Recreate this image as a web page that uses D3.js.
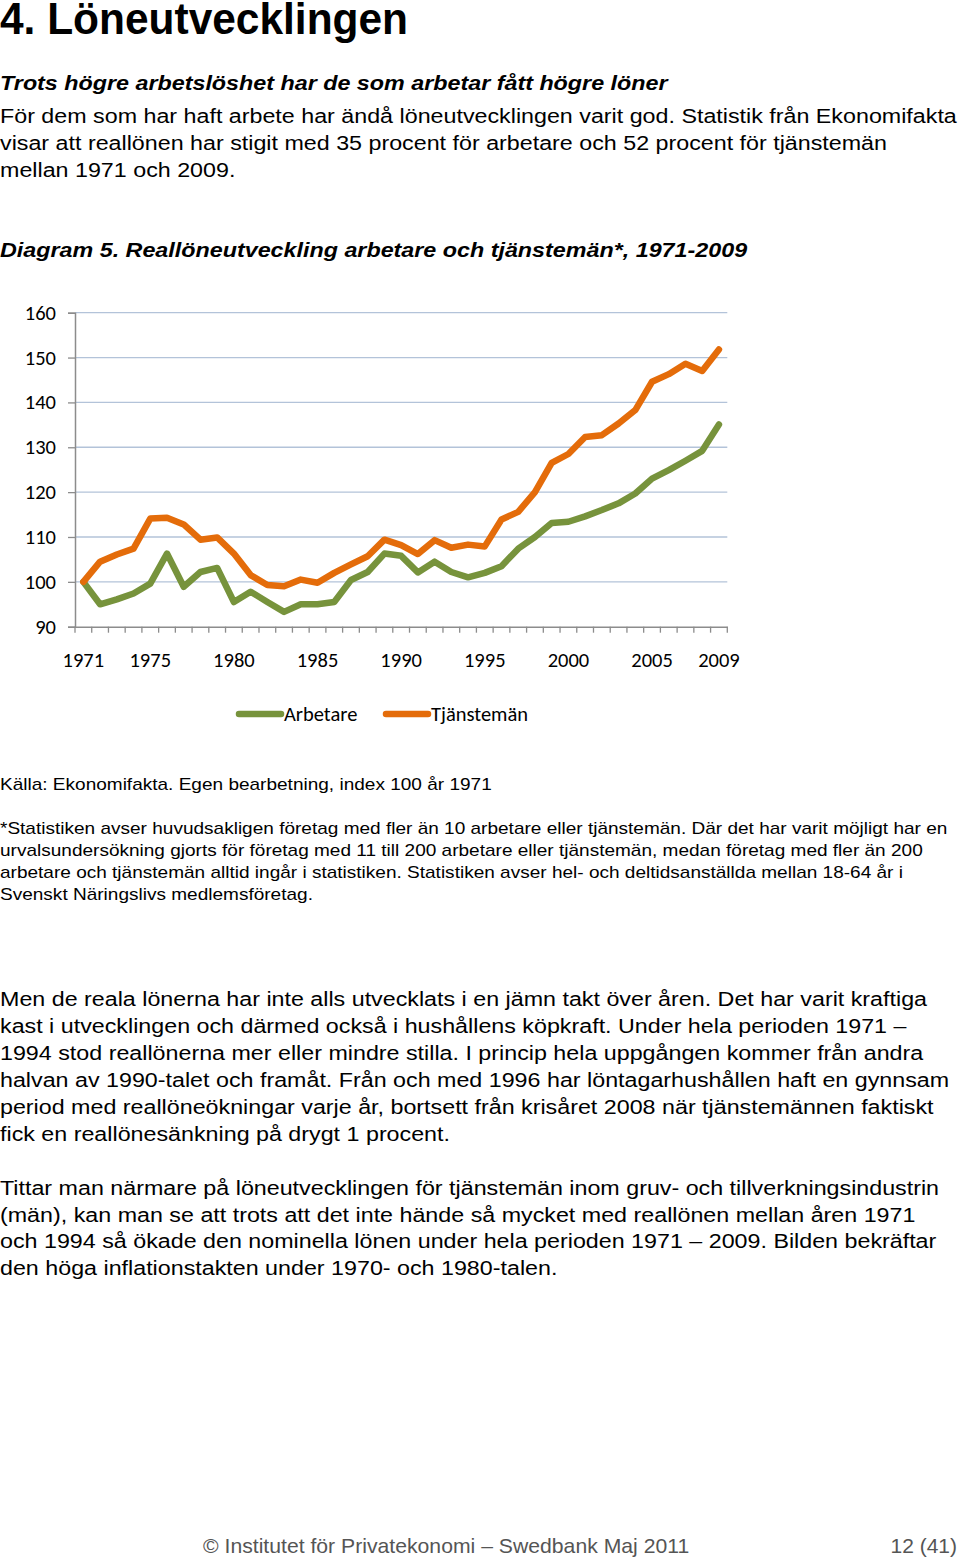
<!DOCTYPE html>
<html><head><meta charset="utf-8">
<script src="https://cdn.jsdelivr.net/npm/d3@7"></script>
<style>
body{margin:0;background:#fff;}
svg{display:block;}
</style></head>
<body>
<svg id="c" width="960" height="1558"></svg>
<script>
const years = d3.range(1971, 2010);
const tickYears = [1971, 1975, 1980, 1985, 1990, 1995, 2000, 2005, 2009];
const yTicks = [90, 100, 110, 120, 130, 140, 150, 160];
const arbetare = [100, 95.0, 96.1, 97.4, 99.6, 106.3, 98.9, 102.2, 103.1, 95.5,
  97.8, 95.5, 93.3, 95.0, 95.0, 95.5, 100.4, 102.2, 106.3, 105.8,
  102.1, 104.5, 102.2, 101.0, 102.0, 103.5, 107.4, 110.0, 113.1, 113.4,
  114.6, 116.0, 117.5, 119.7, 123.0, 124.9, 127.0, 129.2, 135.1];
const tjanstemen = [100, 104.5, 106.1, 107.4, 114.1, 114.3, 112.8, 109.4, 109.9, 106.3,
  101.5, 99.3, 99.0, 100.5, 99.8, 102.0, 103.9, 105.7, 109.4, 108.2,
  106.2, 109.3, 107.6, 108.3, 107.9, 113.9, 115.6, 120.0, 126.5, 128.5,
  132.3, 132.7, 135.3, 138.3, 144.6, 146.3, 148.6, 147.0, 151.8];
const seriesNames = ["Arbetare", "Tjänstemän"];
const colors = ["#77933C", "#E46C0A"];

const svg = d3.select("#c");
const body = "'Liberation Sans', Arial, sans-serif";
const chartFont = "Carlito, Lato, 'Open Sans', sans-serif";
const chartSize = 20.5;

function para(lines, y0, lh, size, opts = {}) {
  const sx = opts.sx || 1;
  lines.forEach((t, i) => {
    svg.append("text")
      .attr("transform", `translate(${opts.x || 0},${y0 + i * lh}) scale(${sx},1)`)
      .attr("font-family", body).attr("font-size", size)
      .attr("font-weight", opts.bold ? "bold" : "normal")
      .attr("font-style", opts.italic ? "italic" : "normal")
      .attr("fill", opts.fill || "#000")
      .attr("text-anchor", opts.anchor || "start")
      .text(t);
  });
}

para(["4. Löneutvecklingen"], 34, 0, 44, {bold: true, sx: 0.965});
para(["Trots högre arbetslöshet har de som arbetar fått högre löner"], 90, 0, 21, {bold: true, italic: true, sx: 1.11});
para(["För dem som har haft arbete har ändå löneutvecklingen varit god. Statistik från Ekonomifakta",
      "visar att reallönen har stigit med 35 procent för arbetare och 52 procent för tjänstemän",
      "mellan 1971 och 2009."], 123, 27, 21, {sx: 1.108});
para(["Diagram 5. Reallöneutveckling arbetare och tjänstemän*, 1971-2009"], 257, 0, 21, {bold: true, italic: true, sx: 1.11});

// chart
const x = d3.scaleBand().domain(years).range([75, 727.3]);
const y = d3.scaleLinear().domain([90, 160]).range([626.7, 312.7]);

const g = svg.append("g");
g.selectAll(".grid").data(yTicks.slice(1)).join("line")
  .attr("x1", 75).attr("x2", 727.3)
  .attr("y1", d => y(d)).attr("y2", d => y(d))
  .attr("stroke", "#B3C3D9").attr("stroke-width", 1.3);

const yAxis = g.append("g").attr("transform", "translate(75,0)")
  .call(d3.axisLeft(y).tickValues(yTicks).tickSize(7).tickPadding(12));
const xAxis = g.append("g").attr("transform", "translate(0,626.7)")
  .call(d3.axisBottom(x).tickValues([]).tickSizeOuter(0));
const bounds = years.map(yr => x(yr)).concat([x(2009) + x.bandwidth()]);
xAxis.selectAll(".bt").data(bounds).join("line").attr("class", "bt")
  .attr("x1", d => d).attr("x2", d => d).attr("y1", 0).attr("y2", 6)
  .attr("stroke", "#8C8C8C").attr("stroke-width", 1.3);
xAxis.selectAll(".lbl").data(tickYears).join("text").attr("class", "lbl")
  .attr("x", d => x(d) + x.bandwidth() / 2).attr("y", 40)
  .attr("text-anchor", "middle").attr("fill", "#000")
  .attr("font-family", chartFont).attr("font-size", chartSize).text(d => d);

[yAxis, xAxis].forEach(a => {
  a.select(".domain").attr("stroke", "#8C8C8C").attr("stroke-width", 1.5);
  a.selectAll(".tick line").attr("stroke", "#8C8C8C").attr("stroke-width", 1.3);
  a.selectAll(".tick text").attr("font-family", chartFont).attr("font-size", chartSize).attr("fill", "#000");
});

const line = d3.line().x((d, i) => x(years[i]) + x.bandwidth() / 2).y(d => y(d));
[arbetare, tjanstemen].forEach((s, k) => {
  g.append("path").datum(s).attr("d", line).attr("fill", "none")
    .attr("stroke", colors[k]).attr("stroke-width", 6.5)
    .attr("stroke-linejoin", "round").attr("stroke-linecap", "round");
});

// legend
const legX = [237, 384];
seriesNames.forEach((n, k) => {
  g.append("line").attr("x1", legX[k] + 2).attr("x2", legX[k] + 44)
    .attr("y1", 714).attr("y2", 714).attr("stroke", colors[k])
    .attr("stroke-width", 6.5).attr("stroke-linecap", "round");
  g.append("text").attr("x", legX[k] + 47).attr("y", 721)
    .attr("font-family", chartFont).attr("font-size", chartSize).text(n);
});

para(["Källa: Ekonomifakta. Egen bearbetning, index 100 år 1971"], 790, 0, 17, {sx: 1.12});
para(["*Statistiken avser huvudsakligen företag med fler än 10 arbetare eller tjänstemän. Där det har varit möjligt har en",
      "urvalsundersökning gjorts för företag med 11 till 200 arbetare eller tjänstemän, medan företag med fler än 200",
      "arbetare och tjänstemän alltid ingår i statistiken. Statistiken avser hel- och deltidsanställda mellan 18-64 år i",
      "Svenskt Näringslivs medlemsföretag."], 834, 22, 17, {sx: 1.12});
para(["Men de reala lönerna har inte alls utvecklats i en jämn takt över åren. Det har varit kraftiga",
      "kast i utvecklingen och därmed också i hushållens köpkraft.  Under hela perioden 1971 –",
      "1994 stod reallönerna mer eller mindre stilla. I princip hela uppgången kommer från andra",
      "halvan av 1990-talet och framåt. Från och med 1996 har löntagarhushållen haft en gynnsam",
      "period med reallöneökningar varje år, bortsett från krisåret 2008 när tjänstemännen faktiskt",
      "fick en reallönesänkning på drygt 1 procent."], 1006, 27, 21, {sx: 1.108});
para(["Tittar man närmare på löneutvecklingen för tjänstemän inom gruv- och tillverkningsindustrin",
      "(män), kan man se att trots att det inte hände så mycket med reallönen mellan åren 1971",
      "och 1994 så ökade den nominella lönen under hela perioden 1971 – 2009. Bilden bekräftar",
      "den höga inflationstakten under 1970- och 1980-talen."], 1195, 26.7, 21, {sx: 1.108});
para(["© Institutet för Privatekonomi – Swedbank Maj 2011"], 1553, 0, 20, {x: 203, fill: "#555", sx: 1.06});
para(["12 (41)"], 1553, 0, 20, {x: 957, fill: "#555", anchor: "end", sx: 1.05});
</script>
</body></html>
